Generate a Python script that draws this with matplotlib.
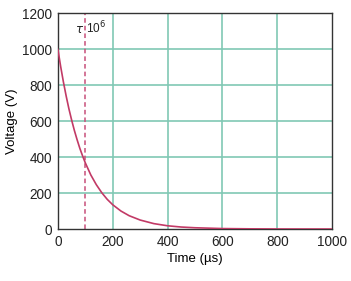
import numpy as np
import matplotlib.pyplot as plt
import matplotlib

matplotlib.rc('font', family='Liberation Sans', size=9.8)
matplotlib.rc('text', color='#222222')
matplotlib.rc('xtick', color='#222222')
matplotlib.rc('ytick', color='#222222')

# discharge curve (tau = 100 us)
t = [0, 10, 20, 30, 40, 50, 60, 70, 80, 90, 100, 120, 140, 160, 180, 200,
     230, 260, 300, 350, 400, 450, 500, 600, 700, 800, 900, 1000]
v = [1000, 905, 819, 741, 670, 607, 549, 497, 449, 407, 368, 301, 247, 202,
     165, 135, 100, 74, 50, 30, 18, 11, 7, 2.5, 1, 0.3, 0.1, 0]
tau = 100

fig = plt.figure(figsize=(3.51, 2.81), dpi=100)
ax = fig.add_axes([0.165, 0.185, 0.781, 0.767])

for x in [200, 400, 600, 800]:
    ax.axvline(x, c='#80c8b4', lw=1.2, zorder=1)
for y in [200, 400, 600, 800, 1000]:
    ax.axhline(y, c='#80c8b4', lw=1.2, zorder=1)

ax.plot(t, v, c='#c23a66', lw=1.2, zorder=3)
ax.axvline(tau, c='#c8507a', ls='--', lw=1.1, dashes=(3, 2), zorder=2)
ax.text(tau - 3, 1110, r'$\tau$', ha='right', va='center', fontsize=8.5)
ax.text(tau + 2, 1120, r'10$^6$', ha='left', va='center', fontsize=8.5)

ax.set_xlim(0, 1000)
ax.set_ylim(0, 1200)
ax.set_xticks([0, 200, 400, 600, 800, 1000])
ax.set_yticks([0, 200, 400, 600, 800, 1000, 1200])
ax.tick_params(length=0, pad=4)
for s in ax.spines.values():
    s.set_color('#333333')
    s.set_linewidth(1.0)
ax.set_xlabel('Time (µs)', labelpad=3, fontsize=9.5)
ax.set_ylabel('Voltage (V)', labelpad=3, fontsize=9.5)

plt.savefig('out.png', dpi=100)
